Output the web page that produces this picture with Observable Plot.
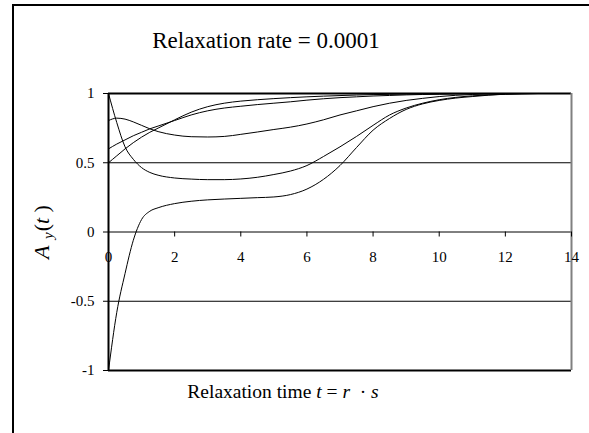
<!DOCTYPE html>
<html><head><meta charset="utf-8">
<script src="https://cdn.jsdelivr.net/npm/d3@7"></script>
<script src="https://cdn.jsdelivr.net/npm/@observablehq/plot@0.6"></script>
<style>
body{margin:0;background:#fff;}
#wrap{position:relative;width:589px;height:433px;overflow:hidden;font-family:"Liberation Serif","Times New Roman",serif;color:#000;background:#fff;}
#frame{position:absolute;left:12px;top:4px;width:640px;height:500px;border-left:2px solid #000;border-top:2px solid #000;}
#chart{position:absolute;left:0;top:0;}
.title{position:absolute;left:266px;top:29px;transform:translateX(-50%);font-size:23px;line-height:23px;white-space:nowrap;}
.xlabel{position:absolute;left:283px;top:382px;transform:translateX(-50%);font-size:19.5px;line-height:19.5px;white-space:nowrap;}
.ylabel{position:absolute;left:45px;top:232px;transform:translate(-50%,-50%) rotate(-90deg);font-size:22px;line-height:22px;white-space:nowrap;}
.ylabel sub{font-size:15px;vertical-align:-4px;margin:0 1px;}
</style>
</head><body>
<div id="wrap">
  <div id="frame"></div>
  <div id="chart"></div>
  <div class="title">Relaxation rate = 0.0001</div>
  <div class="xlabel">Relaxation time <i>t</i> = <i>r</i> &nbsp;· <i>s</i></div>
  <div class="ylabel"><i>A</i> <sub><i>y</i></sub>(<i>t</i> )</div>
</div>
<script>
// time grid (relaxation time t)
const t = [0,0.25,0.5,0.75,1,1.25,1.5,2,2.5,3,3.5,4,4.5,5,5.5,6,6.5,7,7.5,8,8.5,9,9.5,10,10.5,11,11.5,12,12.5,13];
// series values A_y(t)
const sA = [1,0.79,0.615,0.525,0.465,0.43,0.41,0.39,0.382,0.378,0.378,0.383,0.395,0.415,0.44,0.48,0.545,0.615,0.69,0.77,0.845,0.895,0.93,0.955,0.972,0.983,0.99,0.995,0.998,1];
const sB = [-1,-0.58,-0.3,-0.06,0.09,0.15,0.175,0.205,0.222,0.232,0.238,0.243,0.248,0.253,0.27,0.31,0.38,0.48,0.61,0.735,0.82,0.885,0.925,0.95,0.967,0.978,0.988,0.995,0.998,1];
const sC = [0.805,0.822,0.815,0.795,0.77,0.745,0.725,0.70,0.688,0.686,0.69,0.705,0.722,0.74,0.757,0.78,0.81,0.845,0.875,0.905,0.93,0.95,0.965,0.978,0.987,0.993,0.997,0.999,1,1];
const sD = [0.6,0.635,0.665,0.695,0.72,0.745,0.765,0.805,0.845,0.875,0.895,0.908,0.92,0.93,0.94,0.952,0.962,0.97,0.976,0.982,0.986,0.99,0.993,0.995,0.997,0.998,0.999,1,1,1];
const sE = [0.5,0.55,0.6,0.645,0.685,0.72,0.75,0.81,0.865,0.905,0.93,0.945,0.955,0.963,0.97,0.976,0.981,0.985,0.989,0.992,0.994,0.996,0.997,0.998,0.999,1,1,1,1,1];
// ticks
const xTicks = [0,2,4,6,8,10,12,14];
const yTicks = [-1,-0.5,0,0.5,1];
const gridY = [-0.5,0,0.5];

const seriesList = [["A",sA],["B",sB],["C",sC],["D",sD],["E",sE]];
const rows = seriesList.flatMap(([name, vals]) => vals.map((v, i) => ({s: name, t: t[i], v})));

const chart = Plot.plot({
  width: 589, height: 433,
  marginLeft: 108, marginRight: 18, marginTop: 93, marginBottom: 63,
  style: {fontFamily: "Liberation Serif, Times New Roman, serif", fontSize: "15px", background: "transparent", color: "#000"},
  x: {domain: [0, 14], axis: null, label: null},
  y: {domain: [-1, 1], axis: null, label: null},
  marks: [
    Plot.ruleY(gridY, {stroke: "#000", strokeWidth: 1}),
    Plot.ruleY([1, -1], {stroke: "#000", strokeWidth: 2}),
    Plot.ruleX([14], {stroke: "#808080", strokeWidth: 2}),
    Plot.ruleX(xTicks, {x: d => d, y1: 0, y2: 0, insetBottom: -5, stroke: "#000"}),
    Plot.text(xTicks, {x: d => d, y: 0, dy: 25, text: d => String(d), fontSize: 15}),
    Plot.axisY(yTicks, {tickSize: 5, tickPadding: 9, tickFormat: d => String(d), fontSize: 15, stroke: "#000", label: null}),
    Plot.line(rows, {x: "t", y: "v", z: "s", stroke: "#000", strokeWidth: 1, curve: "monotone-x"}),
    Plot.ruleX([0], {stroke: "#000", strokeWidth: 2})
  ]
});
document.getElementById("chart").appendChild(chart);
</script>
</body></html>
